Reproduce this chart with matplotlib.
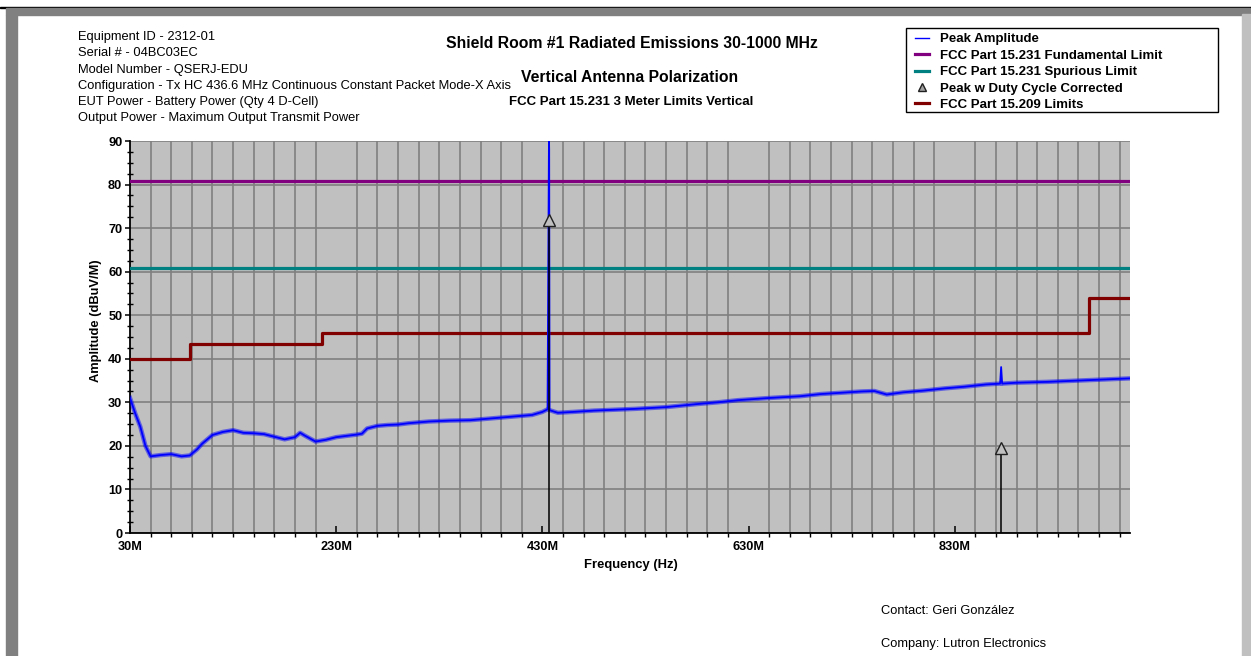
import numpy as np
import matplotlib
matplotlib.use('Agg')
import matplotlib.pyplot as plt
from matplotlib.lines import Line2D
from matplotlib.patches import Rectangle
from matplotlib.ticker import FixedLocator, MultipleLocator, FuncFormatter

plt.rcParams['font.family'] = ['Liberation Sans', 'DejaVu Sans']

# peak amplitude sweep, MHz / dBuV/m
freq_mhz = [30, 35, 40, 45, 50, 60, 70, 80, 88, 95, 100, 110, 120, 130, 140,
            150, 160, 170, 180, 190, 195, 200, 210, 220, 230, 240, 250, 255,
            260, 270, 280, 290, 300, 320, 340, 360, 380, 400, 420, 430, 435,
            436.4, 436.6, 437, 445, 460, 480, 500, 520, 550, 580, 600, 620,
            650, 680, 700, 720, 740, 752, 764, 780, 800, 820, 840, 860, 874,
            875, 876, 890, 920, 940, 960, 980, 1000]
peak_amp = [31.0, 27.5, 24.4, 20.0, 17.6, 17.9, 18.1, 17.6, 17.8, 19.2, 20.5,
            22.5, 23.2, 23.6, 23.0, 22.9, 22.7, 22.1, 21.5, 22.0, 23.0, 22.3,
            21.0, 21.4, 22.0, 22.3, 22.6, 22.8, 24.0, 24.6, 24.8, 24.9, 25.2,
            25.6, 25.8, 25.9, 26.3, 26.7, 27.1, 27.8, 28.4, 91.0, 88.0, 28.2,
            27.6, 27.8, 28.1, 28.3, 28.5, 28.9, 29.6, 30.0, 30.5, 31.0, 31.4,
            31.9, 32.2, 32.5, 32.6, 31.8, 32.3, 32.7, 33.2, 33.6, 34.1, 34.3,
            38.1, 34.3, 34.5, 34.7, 34.9, 35.1, 35.3, 35.5]

# duty cycle corrected peaks
dc_freq_mhz = [436.6, 875.0]
dc_amp = [71.9, 19.6]

fund_limit = 80.8
spur_limit = 60.8

# FCC 15.209 step limits
lim209_freq = [30, 88, 88, 216, 216, 960, 960, 1000]
lim209_amp = [40.0, 40.0, 43.5, 43.5, 46.0, 46.0, 54.0, 54.0]

info_lines = ['Equipment ID - 2312-01',
              'Serial # - 04BC03EC',
              'Model Number - QSERJ-EDU',
              'Configuration - Tx HC 436.6 MHz Continuous Constant Packet Mode-X Axis',
              'EUT Power - Battery Power (Qty 4 D-Cell)',
              'Output Power - Maximum Output Transmit Power']

W, H = 1251, 656
fig = plt.figure(figsize=(W / 100, H / 100), dpi=100)
fig.patch.set_facecolor('white')

def fx(px):
    return px / W

def fy(py):
    return 1 - py / H

# window frame
fig.add_artist(Rectangle((0, fy(8)), 1, 1.2 / H, color='#000000',
                         transform=fig.transFigure))
fig.add_artist(Rectangle((fx(6), fy(15)), fx(1244), 7 / H, color='#808080',
                         transform=fig.transFigure))
fig.add_artist(Rectangle((fx(6), 0), fx(11), fy(15), color='#808080',
                         transform=fig.transFigure))
fig.add_artist(Rectangle((fx(1242), 0), fx(9), fy(14), color='#c0c0c0',
                         transform=fig.transFigure))

ax = fig.add_axes([fx(130), fy(533), fx(1000), 392 / H])
ax.set_facecolor('#c0c0c0')

f = np.array(freq_mhz) * 1e6
amp = np.array(peak_amp)
# soft halo for the noise floor only, spikes stay thin
ax.plot(f, np.ma.masked_greater(amp, 36.5), color='#0000ff', lw=3.2,
        alpha=0.5, zorder=4)
ax.plot(f, amp, color='#0000ff', lw=1.3, zorder=5)

ax.axhline(fund_limit, color='#800080', lw=2.3, zorder=3)
ax.axhline(spur_limit, color='#008080', lw=2.3, zorder=3)
ax.plot(np.array(lim209_freq) * 1e6, lim209_amp, color='#800000', lw=2.3, zorder=3)

dcf = np.array(dc_freq_mhz) * 1e6
ax.vlines(dcf, 0, dc_amp, color='black', lw=1.1, zorder=6)
ax.plot(dcf, dc_amp, ls='none', marker='^', ms=8, mfc='#c0c0c0',
        mec='#202020', mew=1.0, zorder=7)

ax.set_xlim(30e6, 1000e6)
ax.set_ylim(0, 90)

ax.xaxis.set_major_locator(FixedLocator([30e6, 230e6, 430e6, 630e6, 830e6]))
ax.xaxis.set_minor_locator(FixedLocator(np.arange(30e6, 1000e6, 20e6)))
ax.xaxis.set_major_formatter(FuncFormatter(lambda v, p: '%dM' % round(v / 1e6)))
ax.yaxis.set_major_locator(MultipleLocator(10))
ax.yaxis.set_minor_locator(MultipleLocator(2.5))

ax.grid(True, which='major', axis='y', color='#808080', lw=1.2)
ax.grid(True, which='minor', axis='x', color='#808080', lw=1.2)
ax.set_axisbelow(True)

for s in ['top', 'right']:
    ax.spines[s].set_visible(False)
for s in ['left', 'bottom']:
    ax.spines[s].set_linewidth(1.3)
    ax.spines[s].set_color('black')

ax.tick_params(axis='both', which='major', labelsize=9.2, width=1.1)
ax.tick_params(axis='y', which='major', direction='out', length=3.5, pad=2)
ax.tick_params(axis='y', which='minor', direction='inout', length=4, width=1.0)
ax.tick_params(axis='x', which='major', direction='in', length=5, pad=6)
ax.tick_params(axis='x', which='minor', direction='out', length=3, width=1.0)
for lbl in ax.get_xticklabels() + ax.get_yticklabels():
    lbl.set_fontweight('bold')

fig.text(fx(631), fy(565), 'Frequency (Hz)', ha='center', va='center',
         fontsize=9.4, fontweight='bold')
fig.text(fx(96), fy(321), 'Amplitude (dBuV/M)', ha='center', va='center',
         rotation=90, fontsize=9.3, fontweight='bold')

# header
for i, line in enumerate(info_lines):
    fig.text(fx(78), fy(37 + i * 16.3), line, ha='left', va='center', fontsize=9.3)

fig.text(fx(632), fy(44), 'Shield Room #1 Radiated Emissions 30-1000 MHz',
         ha='center', va='center', fontsize=11.3, fontweight='bold')
fig.text(fx(630), fy(77), 'Vertical Antenna Polarization',
         ha='center', va='center', fontsize=11.3, fontweight='bold')
fig.text(fx(631), fy(102), 'FCC Part 15.231 3 Meter Limits Vertical',
         ha='center', va='center', fontsize=9.5, fontweight='bold')

fig.text(fx(881), fy(611), 'Contact: Geri González', ha='left', va='center', fontsize=9.3)
fig.text(fx(881), fy(644), 'Company: Lutron Electronics', ha='left', va='center', fontsize=9.3)

# legend with its own box
fig.add_artist(Rectangle((fx(906), fy(112)), fx(312), 84 / H, facecolor='white',
                         edgecolor='black', lw=1.0, transform=fig.transFigure,
                         zorder=1))
handles = [
    Line2D([], [], color='#0000ff', lw=1.0),
    Line2D([], [], color='#800080', lw=2.3),
    Line2D([], [], color='#008080', lw=2.3),
    Line2D([], [], ls='none', marker='^', ms=6, mfc='#a0a0a0', mec='#202020'),
    Line2D([], [], color='#800000', lw=2.3),
]
labels = ['Peak Amplitude',
          'FCC Part 15.231 Fundamental Limit',
          'FCC Part 15.231 Spurious Limit',
          'Peak w Duty Cycle Corrected',
          'FCC Part 15.209 Limits']
leg = fig.legend(handles, labels, loc='upper left', bbox_to_anchor=(fx(915), fy(33)),
                 prop={'size': 9.5, 'weight': 'bold'}, frameon=False,
                 borderpad=0, labelspacing=0.32, handlelength=1.05,
                 handletextpad=0.83, borderaxespad=0)
leg.set_zorder(2)

fig.savefig('out.png', dpi=100)
